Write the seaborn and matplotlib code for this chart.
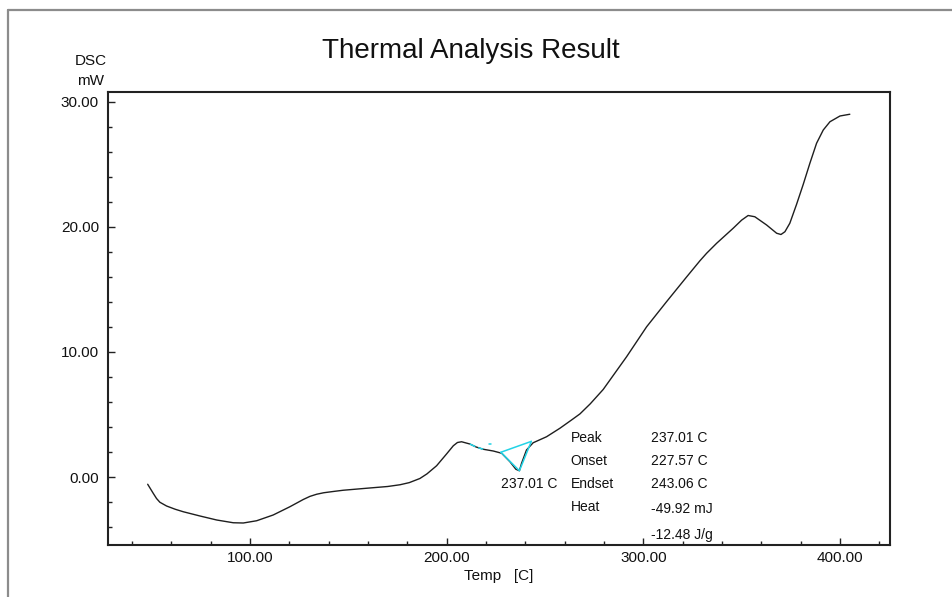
import numpy as np
import pandas as pd
import matplotlib
matplotlib.use("Agg")
import matplotlib.pyplot as plt
from matplotlib.ticker import MultipleLocator, FormatStrFormatter
from matplotlib.lines import Line2D
import seaborn as sns

# DSC curve
temp = [48.0, 50.8, 52.5, 54.2, 57.6, 62.0, 66.1, 74.6, 83.1, 91.5, 96.6, 103.4,
        111.8, 120.3, 127.1, 130.5, 133.9, 137.5, 142.3, 147.4, 159.3, 170.0,
        176.3, 181.0, 186.4, 190.0, 194.9, 200.0, 203.4, 205.5, 207.6, 211.8,
        215.0, 218.6, 223.7, 228.0, 232.2, 235.2, 237.0, 238.1, 240.6, 244.0,
        250.8, 257.6, 263.5, 267.8, 273.0, 279.6, 291.5, 301.7, 311.8, 322.0,
        328.8, 332.2, 337.3, 345.7, 350.0, 353.3, 356.7, 362.7, 367.8, 370.0,
        372.0, 374.5, 377.9, 381.3, 384.7, 388.1, 391.5, 394.9, 400.0, 405.0]
dsc = [-0.58, -1.30, -1.72, -2.02, -2.32, -2.58, -2.78, -3.12, -3.44, -3.66, -3.68, -3.50,
       -3.04, -2.38, -1.80, -1.55, -1.38, -1.26, -1.16, -1.06, -0.90, -0.76,
       -0.62, -0.45, -0.12, 0.25, 0.90, 1.85, 2.50, 2.76, 2.82, 2.64,
       2.40, 2.22, 2.08, 1.90, 1.22, 0.62, 0.50, 1.10, 2.16, 2.74,
       3.22, 3.90, 4.56, 5.05, 5.85, 7.00, 9.62, 12.02, 14.02, 16.00,
       17.30, 17.90, 18.70, 19.90, 20.55, 20.92, 20.82, 20.16, 19.50, 19.40,
       19.62, 20.30, 21.80, 23.40, 25.10, 26.70, 27.76, 28.42, 28.88, 29.02]

# peak analysis results
peak_t, peak_y = 237.01, 0.50
onset_t, onset_y = 227.57, 1.98
endset_t, endset_y = 243.06, 2.85
result_names = ["Peak", "Onset", "Endset", "Heat", ""]
result_values = ["237.01 C", "227.57 C", "243.06 C", "-49.92 mJ", "-12.48 J/g"]
x_ticks = [100, 200, 300, 400]
y_ticks = [0, 10, 20, 30]

df = pd.DataFrame({"Temp": temp, "DSC": dsc})

sns.set_theme(style="white")
plt.rcParams["font.family"] = ["Liberation Sans", "DejaVu Sans"]
plt.rcParams["xtick.direction"] = "in"
plt.rcParams["ytick.direction"] = "in"

fig = plt.figure(figsize=(9.52, 5.97), dpi=100)
ax = fig.add_axes([0.1134, 0.0871, 0.8214, 0.7588])

sns.lineplot(data=df, x="Temp", y="DSC", color="#1e1e1e", linewidth=1.0, ax=ax)

# cyan peak construction
cyan = "#22d3e6"
ax.plot([onset_t, endset_t], [onset_y, endset_y], color=cyan, lw=1.1)
ax.plot([onset_t, peak_t, endset_t], [onset_y, peak_y, endset_y], color=cyan, lw=1.1)
seg = df[(df.Temp >= 211.5) & (df.Temp <= 219)]
ax.plot(seg.Temp, seg.DSC, color=cyan, lw=1.1, ls=(0, (4, 2)))
ax.plot([221.5, 222.5], [2.64, 2.64], color=cyan, lw=1.1)

ax.set_xlim(27.8, 425.4)
ax.set_ylim(-5.44, 30.8)
ax.set_xticks(x_ticks)
ax.set_yticks(y_ticks)
ax.xaxis.set_minor_locator(MultipleLocator(20))
ax.yaxis.set_minor_locator(MultipleLocator(2))
ax.xaxis.set_major_formatter(FormatStrFormatter("%.2f"))
ax.yaxis.set_major_formatter(FormatStrFormatter("%.2f"))
ax.tick_params(which="both", bottom=True, left=True, top=False, right=False)
ax.tick_params(which="major", length=5, width=1, color="#222222", labelsize=11,
               labelcolor="#111111")
ax.tick_params(which="minor", length=3, width=1, color="#222222")
ax.tick_params(axis="x", which="major", pad=4)
ax.tick_params(axis="y", which="major", pad=6.5)
for s in ax.spines.values():
    s.set_color("#222222")
    s.set_linewidth(1.5)

ax.set_xlabel("Temp   [C]", fontsize=11, color="#111111", labelpad=3)
ax.set_ylabel("")

# annotation texts
ax.text(227.8, -0.56, "237.01 C", fontsize=10, color="#111111", va="center", ha="left")
rows_y = [3.12, 1.28, -0.56, -2.42, -4.64]
vals_y = [3.12, 1.28, -0.56, -2.58, -4.64]
for name, val, ry, vy in zip(result_names, result_values, rows_y, vals_y):
    ax.text(263.0, ry, name, fontsize=10, color="#111111", va="center", ha="left")
    ax.text(304.0, vy, val, fontsize=10, color="#111111", va="center", ha="left")

fig.text(471 / 952, 1 - 51 / 597, "Thermal Analysis Result", fontsize=20,
         ha="center", va="center", color="#111111")
fig.text(91 / 952, 1 - 61 / 597, "DSC", fontsize=11, ha="center", va="center", color="#111111")
fig.text(91 / 952, 1 - 81 / 597, "mW", fontsize=11, ha="center", va="center", color="#111111")

# outer frame
fig.add_artist(Line2D([8 / 952, 1], [1 - 10 / 597, 1 - 10 / 597], color="#8c8c8c", lw=1.6))
fig.add_artist(Line2D([8 / 952, 8 / 952], [0, 1 - 10 / 597], color="#8c8c8c", lw=1.6))

fig.savefig("out.png", dpi=100)
